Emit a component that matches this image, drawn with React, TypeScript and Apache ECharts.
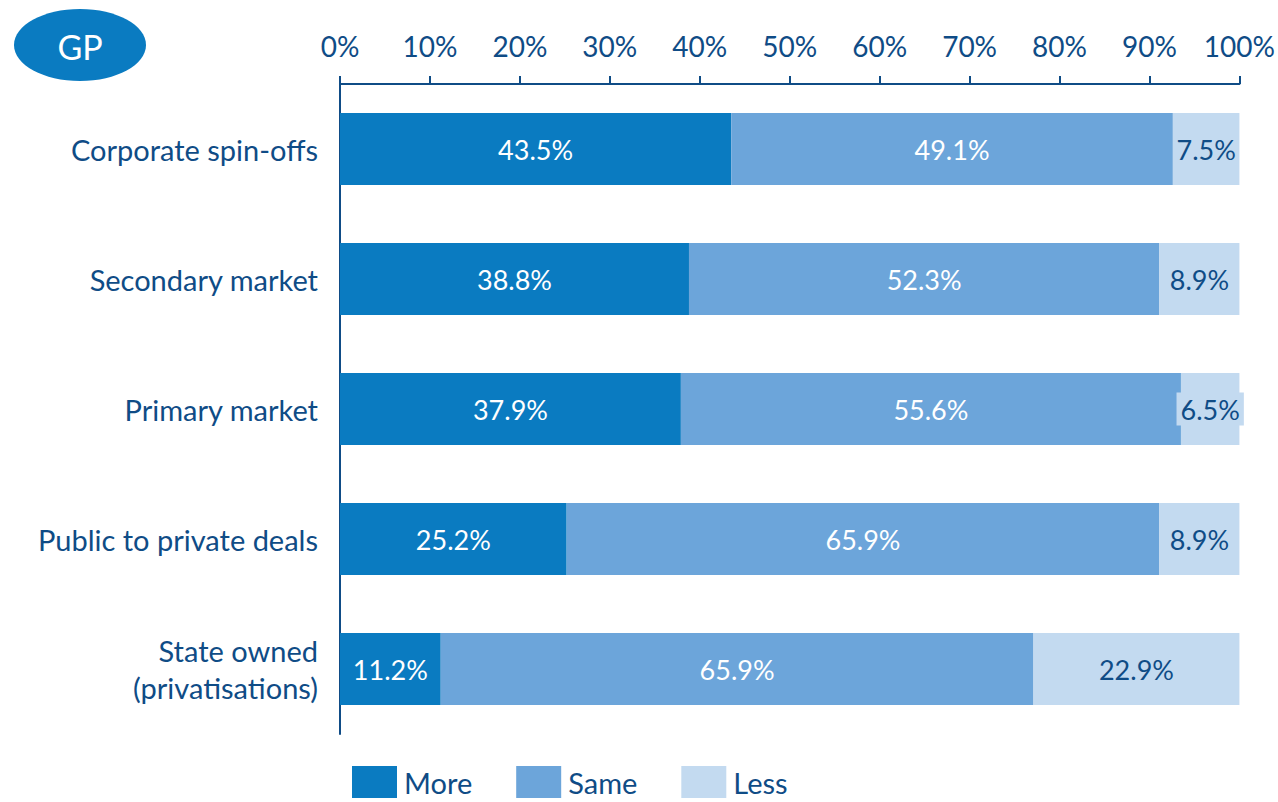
import React, { useEffect, useRef } from "react";
import * as echarts from "echarts";

const categories = [
  "Corporate spin-offs",
  "Secondary market",
  "Primary market",
  "Public to private deals",
  "State owned\n(privatisations)",
];
const moreValues = [43.5, 38.8, 37.9, 25.2, 11.2];
const sameValues = [49.1, 52.3, 55.6, 65.9, 65.9];
const lessValues = [7.5, 8.9, 6.5, 8.9, 22.9];
const seriesNames = ["More", "Same", "Less"];
const xTicks = [0, 10, 20, 30, 40, 50, 60, 70, 80, 90, 100];

const C_MORE = "#0a7bc1";
const C_SAME = "#6ca5da";
const C_LESS = "#c3daf0";
const C_TEXT = "#0f4c86";
const FONT = "Lato, 'Open Sans', sans-serif";

export default function App() {
  const ref = useRef<HTMLDivElement>(null);
  useEffect(() => {
    if (!ref.current) return;
    const chart = echarts.init(ref.current, null, { renderer: "svg" });
    const lbl = (color: string) => ({
      show: true,
      position: "inside" as const,
      color,
      fontSize: 27,
      fontFamily: FONT,
      formatter: (p: any) => p.value.toFixed(1) + "%",
    });
    chart.setOption({
      animation: false,
      backgroundColor: "#ffffff",
      grid: { left: 340, right: 36, top: 84, bottom: 68, containLabel: false },
      xAxis: {
        type: "value",
        position: "top",
        min: 0,
        max: 100,
        interval: 10,
        axisLine: { show: true, lineStyle: { color: C_TEXT, width: 2 } },
        axisTick: { show: true, length: 8, inside: false, lineStyle: { color: C_TEXT, width: 2 } },
        splitLine: { show: false },
        axisLabel: {
          color: C_TEXT,
          fontSize: 28,
          fontFamily: FONT,
          margin: 24,
          formatter: (v: number) => (xTicks.includes(v) ? v + "%" : ""),
        },
      },
      yAxis: {
        type: "category",
        inverse: true,
        data: categories,
        axisLine: { show: true, lineStyle: { color: C_TEXT, width: 2 } },
        axisTick: { show: false },
        axisLabel: {
          color: C_TEXT,
          fontSize: 29,
          fontFamily: FONT,
          margin: 22,
          align: "right",
          lineHeight: 37,
        },
      },
      legend: {
        data: seriesNames,
        left: 352,
        top: 766,
        padding: 0,
        itemWidth: 45,
        itemHeight: 32,
        itemGap: 44,
        icon: "rect",
        textStyle: { color: C_TEXT, fontSize: 29, fontFamily: FONT, padding: [2, 0, 0, 2] },
      },
      series: [
        {
          name: "More",
          type: "bar",
          stack: "s",
          barWidth: 72,
          data: moreValues,
          itemStyle: { color: C_MORE },
          label: lbl("#ffffff"),
        },
        {
          name: "Same",
          type: "bar",
          stack: "s",
          barWidth: 72,
          data: sameValues,
          itemStyle: { color: C_SAME },
          label: lbl("#ffffff"),
        },
        {
          name: "Less",
          type: "bar",
          stack: "s",
          barWidth: 72,
          data: lessValues.map((v, i) =>
            i === 2
              ? { value: v, label: { backgroundColor: C_LESS, padding: [4, 4, 2, 4] } }
              : v
          ),
          itemStyle: { color: C_LESS },
          label: lbl(C_TEXT),
        },
      ],
      graphic: [
        {
          type: "ellipse",
          shape: { cx: 80, cy: 45, rx: 66, ry: 36 },
          style: { fill: C_MORE },
        },
        {
          type: "text",
          x: 80,
          y: 46,
          style: {
            text: "GP",
            fill: "#ffffff",
            fontSize: 34,
            fontFamily: FONT,
            align: "center",
            verticalAlign: "middle",
          },
        },
      ],
    });
    return () => chart.dispose();
  }, []);
  return (
    <div
      ref={ref}
      style={{ position: "absolute", left: 0, top: 0, width: 1278, height: 802 }}
    />
  );
}
